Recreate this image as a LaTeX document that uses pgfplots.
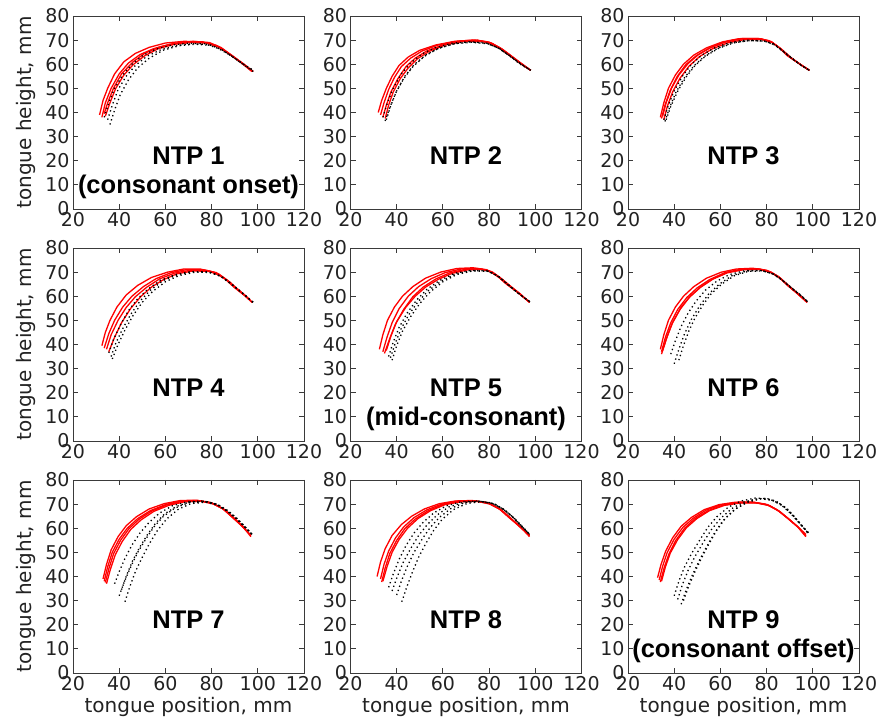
\documentclass[border=0pt]{standalone}
\usepackage{fontspec}
\setmainfont{DejaVu Sans}
\newfontfamily\ntpfont{Liberation Sans}
\usepackage{pgfplots}
\pgfplotsset{compat=1.18}
\usepgfplotslibrary{groupplots}
\usetikzlibrary{calc}

\definecolor{axgray}{HTML}{3A3A3A}
\definecolor{labgray}{HTML}{222222}

\pgfplotsset{
  redline/.style={red, line width=1.3pt, no markers},
  blkdot/.style={black, line width=1.3pt, dash pattern=on 1.3pt off 3pt, no markers},
}
\tikzset{ntp/.style={font=\ntpfont\bfseries\fontsize{25.5}{25.5}\selectfont, anchor=center}}

\begin{document}
\begin{tikzpicture}
\begin{groupplot}[
  group style={group size=3 by 3, horizontal sep=46.5pt, vertical sep=39pt},
  scale only axis, width=231pt, height=193pt,
  xmin=20, xmax=120, ymin=0, ymax=80,
  xtick={20,40,...,120}, ytick={0,10,...,80},
  tick pos=both, xticklabel pos=lower, yticklabel pos=left,
  tick align=inside, major tick length=5pt,
  axis line style={draw=axgray, line width=0.9pt},
  every tick/.style={axgray, line width=0.9pt},
  ticklabel style={font=\fontsize{19}{19}\selectfont, text=labgray},
  /pgf/number format/assume math mode=true,
  every axis y label/.style={at={(axis description cs:-0.205,0.5)}, rotate=90, anchor=center,
    font=\fontsize{20}{20}\selectfont, text=labgray},
  every axis x label/.style={at={(axis description cs:0.5,-0.175)}, anchor=center,
    font=\fontsize{20}{20}\selectfont, text=labgray},
]

% ---- NTP 1
\nextgroupplot[ylabel={tongue height, mm}]
\addplot[redline] coordinates {(31.5,39) (33,45) (35,50) (38,56) (42,61) (47,64.5) (53,67) (60,68.8) (68,69.5) (76,69.3) (82,67.8) (88,64) (93,60.5) (97.5,57)};
\addplot[redline] coordinates {(32.5,38) (34,44) (36.5,50) (40,56) (44,60.5) (49,64) (55,66.5) (62,68.3) (70,69.2) (77,69) (83,67.3) (88,64) (93,60.5) (97.5,57)};
\addplot[redline] coordinates {(33.5,39.5) (35,44) (37.5,50) (41,56) (46,61) (51,64.5) (57,67) (64,68.7) (72,69.5) (79,69) (84,67) (89,63.5) (94,60) (98,57)};
\addplot[redline] coordinates {(34,38.5) (36,44) (38.5,50) (42,55.5) (46,59.8) (51,63.5) (57,66.5) (64,68.3) (71,69) (78,68.8) (84,66.8) (89,63.5) (94,60) (98,57)};
\addplot[blkdot] coordinates {(33.5,38) (35.5,44) (38,50) (41.5,55.5) (45.5,60) (50.5,63.8) (56,66.3) (63,68) (70,68.7) (77,68.5) (83,66.5) (88.5,63.5) (93.5,60) (98,57)};
\addplot[blkdot] coordinates {(35,37) (37,43) (39.5,49.5) (43,55) (47,59.5) (52,63.3) (58,66) (65,67.8) (72,68.5) (79,68.2) (84.5,66) (89.5,62.8) (94,59.8) (98,57.5)};
\addplot[blkdot] coordinates {(36,35) (38,41) (40.5,47.5) (44,53.5) (48,58.5) (53,62.5) (59,65.8) (66,67.7) (73,68.3) (80,67.8) (85,65.7) (90,62.5) (94.5,59.6) (98,57.5)};
\node[ntp] at (axis cs:70,22) {NTP 1};
\node[ntp] at (axis cs:70,9) {(consonant onset)};

% ---- NTP 2
\nextgroupplot
\addplot[redline] coordinates {(32,40) (33.5,45) (35.5,50) (38,55) (41,59.5) (45,63) (50,65.8) (57,68) (65,69.5) (73,70) (79,69.3) (84,67) (89,63.5) (94,60) (98,57.5)};
\addplot[redline] coordinates {(33,39) (34.5,44) (36.5,49.5) (39,54.5) (42,59) (46,62.5) (51,65.5) (58,68) (66,69.5) (74,70) (80,69.2) (85,66.7) (90,63) (94.5,60) (98,57.5)};
\addplot[redline] coordinates {(34,38) (35.5,43) (37.5,48.5) (40.5,54) (44,59) (48,62.5) (53,65.5) (60,68) (68,69.7) (75,70) (81,68.8) (86,66) (90.5,62.8) (94.5,59.8) (98,57.5)};
\addplot[redline] coordinates {(35,37.5) (36.5,43) (38.5,48.5) (41.5,54) (45,58.5) (49,62.3) (54,65.3) (61,68) (69,69.5) (76,69.6) (81.5,68.5) (86,66) (90.5,62.8) (94.5,59.8) (98,57.5)};
\addplot[blkdot] coordinates {(34,38) (36,44) (38.5,50) (42,56) (46,60.5) (51,64.3) (57,67) (64,68.7) (71,69.3) (78,69) (83.5,67) (88.5,63.8) (93.5,60.3) (98,57.5)};
\addplot[blkdot] coordinates {(35,36.5) (37,42) (39.5,48) (43,54) (47,59) (52,63.3) (58,66.5) (65,68.5) (72,69.2) (79,68.7) (84,66.7) (89,63.5) (93.5,60.2) (98,57.5)};
\addplot[blkdot] coordinates {(35.5,37) (37.5,43) (40,49) (43.5,55) (47.5,59.8) (52.5,63.8) (58.5,66.8) (65.5,68.6) (72.5,69.1) (79.5,68.5) (84.5,66.5) (89,63.3) (93.5,60) (98,57.5)};
\node[ntp] at (axis cs:70,22) {NTP 2};

% ---- NTP 3
\nextgroupplot
\addplot[redline] coordinates {(34,38) (35.5,44) (37.5,50) (40.5,55.5) (44,60) (48.5,63.8) (54,66.8) (61,69.3) (68,70.6) (76,70.7) (81,69.8) (85,67.3) (89,63.5) (94,60.3) (98.5,57.5)};
\addplot[redline] coordinates {(34.5,37.5) (36,43) (38.2,49) (41.2,54.8) (45,59.8) (49.5,63.5) (55,66.6) (62,69.2) (69,70.5) (77,70.5) (82,69.3) (86,66.5) (90,63) (94.5,60) (98.5,57.5)};
\addplot[redline] coordinates {(35,38.5) (36.5,44) (38.8,50) (42,55.5) (46,60.3) (50.5,64) (56,67) (63,69.5) (70,70.7) (77.5,70.6) (82,69.4) (86,66.5) (90,63) (94.5,60) (98.5,57.5)};
\addplot[redline] coordinates {(35.5,37) (37,42.5) (39.3,48.5) (42.5,54.2) (46.5,59.3) (51,63.2) (56.5,66.4) (63.5,69) (71,70.3) (78,70.3) (82.5,69) (86.5,66.2) (90.5,62.8) (94.5,60) (98.5,57.5)};
\addplot[blkdot] coordinates {(35.5,37) (37.5,43) (40,49) (43.5,55) (47.5,60) (52,63.8) (57.5,66.8) (64,69) (71,70) (78,69.8) (83,68.5) (87,65.5) (91,62.3) (95,59.5) (98.5,57.5)};
\addplot[blkdot] coordinates {(36,36.3) (38,42) (40.8,48.5) (44.5,54.5) (48.5,59.3) (53,63.2) (58.5,66.5) (65,68.8) (72,69.8) (79,69.6) (83.5,68) (87.5,65) (91.5,62) (95,59.5) (98.5,57.5)};
\addplot[blkdot] coordinates {(36.5,37) (38.5,42.5) (41.5,48.8) (45,54.5) (49,59.5) (53.5,63.3) (59,66.5) (65.5,68.8) (72.5,69.8) (79.5,69.6) (84,67.8) (88,64.8) (92,61.8) (95.5,59.3) (98.5,57.5)};
\node[ntp] at (axis cs:70,22) {NTP 3};

% ---- NTP 4
\nextgroupplot[ylabel={tongue height, mm}]
\addplot[redline] coordinates {(32.5,39.5) (34,45) (36,50) (39,55.5) (43,60.5) (48,64.5) (54,67.8) (61,70) (68,71.3) (75,71.3) (81,70) (86,67) (90,63.5) (94,60.5) (97.5,57.5)};
\addplot[redline] coordinates {(33.5,38.5) (35.5,44.5) (38,50) (41.5,55.5) (45.5,60) (50.5,64) (56,67.3) (62.5,69.8) (69,71) (76,71) (82,69.8) (86.5,66.8) (90.5,63.3) (94.5,60.3) (97.5,57.5)};
\addplot[redline] coordinates {(34.5,38) (36.5,44) (39.5,50) (43,55.3) (47,59.8) (52,63.8) (57.5,67.2) (64,69.6) (71,70.8) (78,70.7) (83,69.3) (87,66.5) (91,63) (94.5,60.3) (97.5,57.5)};
\addplot[redline] coordinates {(35.5,37) (38,43) (41,49) (45,55) (49.5,60) (54,63.8) (59,66.8) (65,69.3) (72,70.5) (79,70.3) (84,68.5) (88,65.8) (91.5,62.8) (95,60) (97.5,57.5)};
\addplot[blkdot] coordinates {(36.5,35) (38.5,40.5) (41.5,46.5) (45,52.5) (49,58) (53.5,62.5) (59,66.5) (65.5,69) (72,70.2) (79,70) (84,68.3) (88,65.5) (92,62.5) (95,60) (98,57.5)};
\addplot[blkdot] coordinates {(37,34) (39.5,40) (42.5,46) (46,52) (50,57.5) (54.5,62) (60,66) (66,68.6) (73,70) (80,69.8) (84.5,68) (88.5,65.2) (92,62.3) (95,59.8) (98,57.5)};
\addplot[blkdot] coordinates {(35.5,36.5) (37.5,42) (40.5,48) (44,54) (48,59) (52.5,63) (58,66.7) (64.5,69) (71,70.2) (78,70.1) (83.5,68.5) (87.5,65.7) (91.5,62.7) (95,60) (98,57.5)};
\node[ntp] at (axis cs:70,22) {NTP 4};

% ---- NTP 5
\nextgroupplot
\addplot[redline] coordinates {(32.5,38) (34,44) (36,50) (39,55.5) (42.5,60) (47,64) (52.5,67.5) (59,70) (66,71.5) (73,71.8) (79,71) (83.5,68.5) (87.5,65) (92.5,61.5) (97.5,57.5)};
\addplot[redline] coordinates {(34,37) (35.8,43) (38,49) (41,54.8) (45,60) (49.5,64) (55,67.3) (61,69.8) (68,71.3) (75,71.5) (80,70.5) (84,68) (88,64.8) (92.5,61.5) (97.5,57.5)};
\addplot[redline] coordinates {(34.7,36.3) (37,42.5) (39.5,48.5) (43,54.5) (47,59.8) (51.5,63.8) (57,67.2) (63,69.7) (70,71.2) (76.5,71.3) (81,70.2) (85,67.5) (89,64.3) (93,61.2) (97.5,57.5)};
\addplot[redline] coordinates {(35.5,37.5) (37.5,43.5) (40,49.5) (44,55.5) (48,60) (52.5,63.8) (58,67) (64,69.5) (71,71) (77.5,71.1) (81.5,70) (85.5,67.2) (89.5,64) (93.5,61) (97.5,57.5)};
\addplot[blkdot] coordinates {(36.5,35) (38.5,41) (41,47) (44.5,53) (48.5,58.3) (53,62.8) (58.5,66.5) (65,69.5) (72,70.7) (79,70.5) (83.5,68.5) (87.5,65.3) (91.5,62) (95,59.5) (98,57.5)};
\addplot[blkdot] coordinates {(38,33.5) (40,39.5) (42.5,45.5) (46,51.5) (50,57) (54.5,61.8) (60,66) (66,69) (73,70.5) (80,70.3) (84,68.3) (88,65) (92,61.8) (95,59.5) (98,57.5)};
\addplot[blkdot] coordinates {(37.3,34.5) (39.3,40.3) (41.8,46.3) (45.2,52.3) (49.2,57.7) (53.7,62.3) (59.2,66.2) (65.5,69.2) (72.5,70.6) (79.5,70.4) (83.8,68.4) (87.8,65.2) (91.8,61.9) (95,59.5) (98,57.5)};
\node[ntp] at (axis cs:70,22) {NTP 5};
\node[ntp] at (axis cs:70,9) {(mid-consonant)};

% ---- NTP 6
\nextgroupplot
\addplot[redline] coordinates {(34,38) (35.5,44) (37.5,50) (40.5,55.5) (44,60) (48.5,64) (54,67.5) (60.5,70) (67,71.3) (74,71.6) (80,70.8) (85,68.3) (89,64.5) (93.5,61) (97.5,57.5)};
\addplot[redline] coordinates {(34.5,37) (36.2,43) (38.5,49) (41.5,54.5) (45.5,59.5) (50,63.5) (55.5,67) (62,69.8) (69,71.2) (76,71.4) (81,70.3) (85.5,67.8) (89.5,64.3) (93.5,61) (97.5,57.5)};
\addplot[redline] coordinates {(35,37.5) (37,43.5) (39.5,49.5) (43,55.5) (47,60) (51.5,63.8) (57,67.3) (63,69.9) (70,71.3) (77,71.3) (82,70) (86,67.5) (90,64) (94,60.8) (97.5,57.5)};
\addplot[redline] coordinates {(34.5,36) (36.5,42) (39,48.5) (42.5,54.5) (46.5,59.5) (51,63.5) (56.5,67) (63,69.7) (70,71) (77,71.1) (82,69.8) (86,67.3) (90,63.8) (94,60.5) (97.5,57.5)};
\addplot[blkdot] coordinates {(40,32) (42,38) (44.5,44.5) (47.5,50.5) (51,56) (55,61) (59.5,65) (65,68.5) (71.5,70.5) (78,70.6) (83,69.2) (87,66.5) (91,63.3) (94.5,60.5) (98,57.5)};
\addplot[blkdot] coordinates {(42,33.5) (44,39.5) (46.3,45.5) (49,51) (52.5,56.5) (56,61) (60.5,65) (66,68.5) (72,70.3) (78.5,70.5) (83.5,69) (87.5,66.2) (91.5,63) (95,60.3) (98,57.5)};
\addplot[blkdot] coordinates {(38.5,36) (40.5,41.5) (43,47.5) (46,53) (49.5,58) (53.5,62.5) (58.5,66.3) (64,69) (70.5,70.6) (77.5,70.7) (82.5,69.4) (86.5,66.8) (90.5,63.5) (94.5,60.5) (98,57.5)};
\node[ntp] at (axis cs:70,22) {NTP 6};

% ---- NTP 7
\nextgroupplot[ylabel={tongue height, mm}, xlabel={tongue position, mm}]
\addplot[redline] coordinates {(33.5,38) (35,44) (37,50) (40,55.5) (43.5,60) (48,64) (53.5,67.3) (60,69.8) (67,71.3) (74,71.5) (80,70.5) (85,68) (89,64.5) (93,61) (97,57)};
\addplot[redline] coordinates {(34,37.5) (35.6,43.5) (37.6,49.5) (40.6,55) (44.2,59.8) (48.7,63.8) (54.2,67.2) (60.7,69.7) (67.5,71.2) (74.5,71.4) (80.5,70.3) (85.5,67.8) (89.5,64.3) (93.5,60.8) (97,57)};
\addplot[redline] coordinates {(34.5,37) (36.2,43) (38.3,49) (41.3,54.5) (45,59.5) (49.5,63.5) (55,67) (61.5,69.5) (68.5,71) (75.5,71.2) (81,70) (86,67.5) (90,64) (93.5,60.8) (97,56.5)};
\addplot[redline] coordinates {(33,39) (34.5,45) (36.5,51) (39.5,56.5) (43,61) (47.5,64.8) (53,68) (59.5,70.2) (66.5,71.5) (73.5,71.6) (79.5,70.7) (84.5,68.3) (88.5,65) (92.5,61.5) (97,57)};
\addplot[blkdot] coordinates {(38,37) (40,42) (42.5,47.5) (45.5,53) (49,58) (53,62.5) (57.5,66.3) (63,69.3) (69.5,71) (76.5,71.3) (82,70) (86.5,67.3) (90.5,64) (94,60.8) (97.5,57.5)};
\addplot[blkdot] coordinates {(40,32) (42.3,38) (45,44) (48,50) (51.5,55.5) (55,60.5) (59,64.8) (64,68.3) (70,70.6) (77,71) (82.5,69.7) (87,67) (91,63.8) (94.5,60.5) (97.5,57.5)};
\addplot[blkdot] coordinates {(42.5,29.5) (44.5,35.5) (47,42) (50,48) (53,53.5) (56.5,59) (60.5,63.8) (65.5,67.8) (71,70.2) (77.5,70.8) (83,69.5) (87.5,66.8) (91.5,63.5) (94.5,60.5) (97.5,57.5)};
\addplot[blkdot] coordinates {(41,34.5) (43.2,40.5) (45.8,46.5) (48.8,52) (52.2,57.3) (55.7,62) (59.7,66) (64.7,69) (70.5,70.9) (77.2,71.2) (82.7,69.9) (87.2,67.2) (91.2,63.9) (94.5,60.6) (97.5,57.5)};
\node[ntp] at (axis cs:70,22) {NTP 7};

% ---- NTP 8
\nextgroupplot[xlabel={tongue position, mm}]
\addplot[redline] coordinates {(31.5,40) (33,46) (35,51.5) (38,57) (42,61.5) (46.5,65) (52,68) (58.5,70.2) (65.5,71.3) (72.5,71.5) (79,70.7) (84,68.3) (88.5,64.8) (93,61) (97.5,57)};
\addplot[redline] coordinates {(33.5,37.7) (35,43.5) (37,49.5) (40,55) (43.5,59.8) (48,63.8) (53.5,67.2) (60,69.8) (67,71.2) (74,71.3) (80,70.3) (85,67.7) (89,64.3) (93,60.8) (97.5,57)};
\addplot[redline] coordinates {(33,39) (34.5,45) (36.5,50.5) (39.5,56) (43,60.5) (47.5,64.4) (53,67.6) (59.5,70) (66.5,71.3) (73.5,71.4) (79.5,70.5) (84.5,68) (88.5,64.5) (93,61) (97.5,57)};
\addplot[redline] coordinates {(34,38) (35.8,44) (38,50) (41,55.3) (44.7,60) (49.2,64) (54.7,67.3) (61,69.8) (68,71) (75,71.1) (80.5,70) (85.5,67.5) (89.5,64) (93.5,60.6) (97.5,56.5)};
\addplot[blkdot] coordinates {(36.5,35.5) (38.5,41) (41,47) (44,52.8) (47.5,58) (51.5,62.5) (56,66.3) (61.5,69.3) (68,71) (75,71.3) (81,70.5) (86,68) (90.5,64.5) (94,61) (97.5,57.5)};
\addplot[blkdot] coordinates {(40,32.3) (42,38) (44.5,44) (47.5,50) (51,55.5) (54.5,60.3) (58.5,64.5) (63.5,68.2) (69.5,70.7) (76.5,71.2) (82,70.2) (86.5,67.7) (90.5,64.3) (94,60.8) (97.5,57.5)};
\addplot[blkdot] coordinates {(42.2,29.5) (44.3,35.5) (46.8,41.8) (49.5,48) (52.5,53.5) (55.8,58.8) (59.5,63.5) (64.5,67.7) (70.5,70.3) (77,71) (82.5,70) (87,67.5) (91,64) (94.5,60.6) (97.5,57.5)};
\addplot[blkdot] coordinates {(38,34) (40.2,39.8) (42.8,45.8) (46,51.5) (49.5,57) (53.3,61.6) (57.5,65.5) (62.5,68.8) (69,70.8) (76,71.2) (81.5,70.3) (86.3,67.8) (90.5,64.4) (94,60.9) (97.5,57.5)};
\node[ntp] at (axis cs:70,22) {NTP 8};

% ---- NTP 9
\nextgroupplot[xlabel={tongue position, mm}]
\addplot[redline] coordinates {(32.8,39.5) (34.3,45) (36.3,50.5) (39.3,56) (43,60.8) (47.5,64.5) (53,67.7) (59.5,69.8) (66.5,70.8) (73.5,70.9) (79.5,70) (84.5,67.7) (89,64.3) (93,61) (97,57.5)};
\addplot[redline] coordinates {(34,37.7) (35.6,43.5) (37.7,49.3) (40.7,55) (44.5,60) (49,64) (54.5,67.2) (61,69.5) (68,70.6) (75,70.6) (81,69.5) (85.5,67) (89.5,63.8) (93.5,60.5) (97,56.5)};
\addplot[redline] coordinates {(33.5,38.5) (35,44.3) (37,50) (40,55.5) (43.8,60.4) (48.3,64.2) (53.8,67.5) (60.3,69.7) (67.3,70.7) (74.3,70.8) (80.3,69.8) (85,67.3) (89.3,64) (93.3,60.8) (97,57)};
\addplot[redline] coordinates {(34.5,38) (36.2,44) (38.3,49.7) (41.5,55.3) (45.3,60.2) (49.8,64) (55.3,67.3) (61.8,69.5) (68.8,70.5) (75.8,70.5) (81.5,69.3) (86,66.7) (90,63.5) (93.8,60.3) (97,56.8)};
\addplot[blkdot] coordinates {(40,32) (42,38) (44.5,44) (47.5,49.5) (51,55) (54.5,60.3) (58.5,64.8) (63.5,68.8) (69,71.3) (75,72.5) (81,72.2) (86,70) (90.5,66) (94.5,61.8) (98,58)};
\addplot[blkdot] coordinates {(41.5,30.5) (43.5,36.5) (46,42.5) (49,48.3) (52.5,54) (56,59.3) (60,64) (65,68.2) (70.5,71) (76.5,72.3) (82,71.8) (87,69.3) (91.5,65.3) (95,61.3) (98.5,57.8)};
\addplot[blkdot] coordinates {(43,28.5) (45.2,34.5) (47.8,40.5) (50.8,46.5) (54,52.3) (57.3,57.8) (61,63) (65.8,67.5) (71.3,70.7) (77.5,72.2) (83,71.5) (88,68.7) (92,64.7) (95.5,60.8) (98.5,57.5)};
\addplot[blkdot] coordinates {(44,30) (46.3,36) (49,42) (52,48) (55.2,53.8) (58.5,59.3) (62.3,64.3) (67,68.3) (72.5,71.2) (78.5,72.5) (84,71.3) (88.8,68.2) (92.5,64.3) (95.8,60.5) (98.5,57.3)};
\node[ntp] at (axis cs:70,22) {NTP 9};
\node[ntp] at (axis cs:70,9) {(consonant offset)};
\end{groupplot}
\pgfresetboundingbox
\path[use as bounding box] ($(group c1r1.north west)+(-73pt,16pt)$) rectangle ($(group c3r3.south east)+(24pt,-54pt)$);
\end{tikzpicture}
\end{document}
